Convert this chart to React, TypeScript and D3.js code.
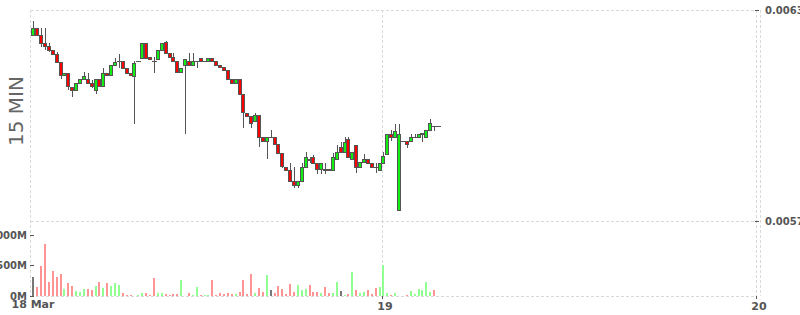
import React from 'react';
import * as d3 from 'd3';

const W = 800;
const H = 315;

// 15-minute candles starting 18 Mar 01:30
const START = new Date(2024, 2, 18, 1, 30);
const STEP_MIN = 15;

const opens = [
  0.0062289, 0.0062480, 0.0062289, 0.0062053, 0.0061976, 0.0061863, 0.0061740, 0.0061530, 0.0061152, 0.0061217,
  0.0060819, 0.0060725, 0.0060916, 0.0061029, 0.0061029, 0.0060916, 0.0060725, 0.0061029, 0.0060839, 0.0061217,
  0.0061143, 0.0061436, 0.0061550, 0.0061550, 0.0061342, 0.0061217, 0.0061123, 0.0061550, 0.0061626, 0.0062053,
  0.0061655, 0.0061550, 0.0061598, 0.0061863, 0.0062099, 0.0061769, 0.0061655, 0.0061550, 0.0061246, 0.0061436,
  0.0061550, 0.0061436, 0.0061550, 0.0061626, 0.0061550, 0.0061550, 0.0061644, 0.0061550, 0.0061436, 0.0061388,
  0.0061294, 0.0061029, 0.0060933, 0.0061029, 0.0060603, 0.0060080, 0.0059986, 0.0059852, 0.0060014, 0.0059397,
  0.0059275, 0.0059380, 0.0059380, 0.0059190, 0.0058942, 0.0058544, 0.0058450, 0.0058137, 0.0058024, 0.0058137,
  0.0058544, 0.0058763, 0.0058811, 0.0058641, 0.0058470, 0.0058479, 0.0058470, 0.0058450, 0.0058755, 0.0059113,
  0.0058954, 0.0059323, 0.0058755, 0.0059161, 0.0058544, 0.0058686, 0.0058755, 0.0058641, 0.0058544, 0.0058450,
  0.0058641, 0.0058897, 0.0059474, 0.0059380, 0.0057313, 0.0059275, 0.0059275, 0.0059275, 0.0059380, 0.0059380,
  0.0059474, 0.0059380, 0.0059588, 0.0059701, 0.0059701,
];

const highs = [
  0.0062687, 0.0062480, 0.0062480, 0.0062480, 0.0062070, 0.0061863, 0.0061814, 0.0061530, 0.0061217, 0.0061217,
  0.0060819, 0.0060916, 0.0061029, 0.0061246, 0.0061217, 0.0061010, 0.0061029, 0.0061029, 0.0061342, 0.0061217,
  0.0061436, 0.0061626, 0.0061749, 0.0061550, 0.0061342, 0.0061217, 0.0061550, 0.0061550, 0.0062053, 0.0062053,
  0.0061655, 0.0061672, 0.0061863, 0.0062070, 0.0062127, 0.0061769, 0.0061769, 0.0061550, 0.0061342, 0.0061598,
  0.0061769, 0.0061786, 0.0061558, 0.0061626, 0.0061558, 0.0061644, 0.0061644, 0.0061550, 0.0061436, 0.0061388,
  0.0061294, 0.0061029, 0.0061029, 0.0061029, 0.0060603, 0.0060080, 0.0059986, 0.0060080, 0.0060014, 0.0059397,
  0.0059380, 0.0059588, 0.0059380, 0.0059190, 0.0058942, 0.0058544, 0.0058658, 0.0058544, 0.0058137, 0.0058641,
  0.0058954, 0.0058811, 0.0058877, 0.0058641, 0.0058658, 0.0058641, 0.0058470, 0.0058925, 0.0059161, 0.0059255,
  0.0059397, 0.0059397, 0.0058954, 0.0059161, 0.0058686, 0.0058897, 0.0058755, 0.0058641, 0.0058641, 0.0058641,
  0.0058954, 0.0059474, 0.0059588, 0.0059758, 0.0059758, 0.0059275, 0.0059275, 0.0059474, 0.0059474, 0.0059474,
  0.0059494, 0.0059588, 0.0059892, 0.0059701, 0.0059701,
];

const lows = [
  0.0062289, 0.0062289, 0.0061948, 0.0061863, 0.0061814, 0.0061720, 0.0061530, 0.0061029, 0.0061152, 0.0060725,
  0.0060518, 0.0060725, 0.0060916, 0.0061029, 0.0060916, 0.0060773, 0.0060611, 0.0060839, 0.0060839, 0.0061143,
  0.0061143, 0.0061436, 0.0061342, 0.0061342, 0.0061217, 0.0061143, 0.0059758, 0.0061550, 0.0061626, 0.0061626,
  0.0061598, 0.0061217, 0.0061598, 0.0061863, 0.0061769, 0.0061672, 0.0061550, 0.0061246, 0.0061246, 0.0059465,
  0.0061436, 0.0061436, 0.0061342, 0.0061550, 0.0061550, 0.0061550, 0.0061550, 0.0061436, 0.0061388, 0.0061294,
  0.0061029, 0.0060933, 0.0060933, 0.0060603, 0.0059645, 0.0059986, 0.0059636, 0.0059852, 0.0059113, 0.0059266,
  0.0058755, 0.0059380, 0.0059190, 0.0058905, 0.0058499, 0.0058450, 0.0058118, 0.0057930, 0.0057930, 0.0058137,
  0.0058544, 0.0058641, 0.0058641, 0.0058328, 0.0058328, 0.0058328, 0.0058442, 0.0058450, 0.0058755, 0.0058954,
  0.0058954, 0.0058828, 0.0058755, 0.0058356, 0.0058544, 0.0058686, 0.0058641, 0.0058544, 0.0058356, 0.0058450,
  0.0058641, 0.0058897, 0.0059283, 0.0059380, 0.0057313, 0.0059275, 0.0059084, 0.0059275, 0.0059380, 0.0059380,
  0.0059255, 0.0059380, 0.0059588, 0.0059568, 0.0059701,
];

const closes = [
  0.0062480, 0.0062289, 0.0062053, 0.0061976, 0.0061863, 0.0061740, 0.0061530, 0.0061152, 0.0061217, 0.0060839,
  0.0060725, 0.0060916, 0.0061029, 0.0061123, 0.0060916, 0.0060839, 0.0061029, 0.0060839, 0.0061217, 0.0061143,
  0.0061436, 0.0061530, 0.0061550, 0.0061342, 0.0061217, 0.0061143, 0.0061501, 0.0061550, 0.0062053, 0.0061626,
  0.0061598, 0.0061550, 0.0061863, 0.0062070, 0.0061769, 0.0061672, 0.0061550, 0.0061246, 0.0061342, 0.0061598,
  0.0061436, 0.0061550, 0.0061558, 0.0061550, 0.0061558, 0.0061644, 0.0061550, 0.0061436, 0.0061388, 0.0061294,
  0.0061029, 0.0060933, 0.0061029, 0.0060603, 0.0060108, 0.0059986, 0.0059778, 0.0060014, 0.0059397, 0.0059266,
  0.0059380, 0.0059380, 0.0059190, 0.0058942, 0.0058564, 0.0058450, 0.0058137, 0.0058024, 0.0058137, 0.0058544,
  0.0058811, 0.0058735, 0.0058641, 0.0058470, 0.0058658, 0.0058450, 0.0058442, 0.0058828, 0.0058954, 0.0058954,
  0.0059255, 0.0058828, 0.0058954, 0.0058544, 0.0058686, 0.0058755, 0.0058641, 0.0058544, 0.0058527, 0.0058641,
  0.0058848, 0.0059474, 0.0059380, 0.0059568, 0.0059474, 0.0059275, 0.0059181, 0.0059380, 0.0059397, 0.0059474,
  0.0059494, 0.0059588, 0.0059778, 0.0059701, 0.0059701,
];

// volume in millions
const volumes = [
  315, 152, 489, 847, 228, 407, 310, 358, 114, 212,
  163, 81, 71, 114, 114, 103, 163, 228, 130, 212,
  163, 212, 179, 49, 16, 16, 5, 16, 49, 49,
  16, 293, 49, 49, 33, 16, 33, 33, 261, 3,
  49, 16, 147, 16, 16, 16, 261, 16, 49, 33,
  49, 33, 33, 65, 261, 33, 358, 49, 130, 68,
  342, 98, 52, 165, 120, 33, 195, 68, 179, 100,
  114, 179, 65, 65, 52, 147, 49, 49, 228, 81,
  12, 33, 391, 100, 52, 62, 100, 33, 133, 150,
  505, 46, 22, 49, 5, 2, 16, 81, 33, 114,
  98, 228, 65, 98, 5,
];

const priceTicks = [0.0057, 0.0063];
const volumeTicks = [0, 500, 1000];
const dateTicks = [new Date(2024, 2, 19), new Date(2024, 2, 20)];
const dateTickLabels = ['19', '20'];
const firstDateLabel = '18 Mar';
const panelLabel = '15 MIN';

const GRID = '#d9d9d9';
const AXIS = '#555';
const TXT = '#555';

export default function App() {
  const x = d3
    .scaleTime()
    .domain([new Date(2024, 2, 18, 1, 21), new Date(2024, 2, 20, 0, 0)])
    .range([31, 757]);
  const yP = d3.scaleLinear().domain([0.0057, 0.0063]).range([221, 10]);
  const yV = d3.scaleLinear().domain([0, 1221]).range([296, 221]);

  const times = opens.map((_, i) => d3.timeMinute.offset(START, i * STEP_MIN));
  const left = 31;
  const right = 757;
  const border = 760;

  const candles = opens.map((o, i) => {
    const c = closes[i];
    const px = Math.round(x(times[i]));
    const hi = Math.round(yP(highs[i]));
    const lo = Math.round(yP(lows[i]));
    const top = Math.round(yP(Math.max(o, c)));
    const bot = Math.round(yP(Math.min(o, c)));
    const fill = c > o ? '#11ee11' : c < o ? '#ff0000' : '#555';
    return (
      <g key={'c' + i}>
        {lo > hi && <line x1={px + 0.5} x2={px + 0.5} y1={hi} y2={lo} stroke={AXIS} strokeWidth={1} />}
        {bot - top >= 1 ? (
          <rect x={px - 1.5} y={top + 0.5} width={3} height={bot - top} fill={fill} stroke={AXIS} strokeWidth={1} />
        ) : (
          <line x1={px - 2} x2={px + 3} y1={top + 0.5} y2={top + 0.5} stroke={AXIS} strokeWidth={1} />
        )}
      </g>
    );
  });

  const vbars = volumes.map((v, i) => {
    const px = Math.round(x(times[i]));
    let col = '#777';
    if (i > 0) {
      if (closes[i] > closes[i - 1]) col = '#92ff92';
      else if (closes[i] < closes[i - 1]) col = '#ff9494';
    }
    const yt = yV(v);
    return <rect key={'v' + i} x={px - 1} y={yt} width={2} height={Math.max(0, yV(0) - yt)} fill={col} />;
  });

  const font = "'DejaVu Sans', Verdana, sans-serif";

  return (
    <div style={{ position: 'fixed', left: 0, top: 0, width: W, height: H, background: '#fff' }}>
      <svg width={W} height={H} style={{ display: 'block' }} shapeRendering="crispEdges">
        {/* grid */}
        {priceTicks.map((t) => (
          <line key={'pg' + t} x1={left} x2={right} y1={Math.round(yP(t)) + 0.5} y2={Math.round(yP(t)) + 0.5} stroke={GRID} strokeDasharray="3,2" />
        ))}
        <line x1={left} x2={right} y1={Math.round(yV(0)) + 0.5} y2={Math.round(yV(0)) + 0.5} stroke={GRID} strokeDasharray="3,2" />
        <line x1={left - 0.5} x2={left - 0.5} y1={10} y2={296} stroke={GRID} strokeDasharray="3,2" />
        {dateTicks.map((d) => (
          <line key={'dg' + d.getTime()} x1={Math.round(x(d)) - 0.5} x2={Math.round(x(d)) - 0.5} y1={10} y2={296} stroke={GRID} strokeDasharray="3,2" />
        ))}
        <line x1={border + 0.5} x2={border + 0.5} y1={10} y2={296} stroke={GRID} strokeDasharray="3,2" />

        {/* volume */}
        {vbars}

        {/* candles */}
        {candles}

        {/* price axis */}
        {priceTicks.map((t) => {
          const yy = Math.round(yP(t)) + 0.5;
          return (
            <g key={'pt' + t}>
              <line x1={755} x2={759} y1={yy} y2={yy} stroke={AXIS} />
              <text x={765} y={yy + 3.5} fontSize={10} fontWeight="bold" fill={TXT} fontFamily={font} shapeRendering="auto">
                {t.toFixed(4)}
              </text>
            </g>
          );
        })}

        {/* volume axis */}
        {volumeTicks.map((t) => {
          const yy = Math.round(yV(t)) + 0.5;
          return (
            <g key={'vt' + t}>
              <line x1={30} x2={34} y1={yy} y2={yy} stroke={AXIS} />
              <text x={27} y={yy + 3.5} fontSize={10} fontWeight="bold" fill={TXT} fontFamily={font} textAnchor="end">
                {t + 'M'}
              </text>
            </g>
          );
        })}

        {/* time axis */}
        {dateTicks.map((d, i) => {
          const xx = Math.round(x(d)) - 0.5;
          return (
            <g key={'dt' + i}>
              <line x1={xx} x2={xx} y1={296} y2={299} stroke={AXIS} />
              <text x={xx + 2.5} y={310} fontSize={11} fontWeight="bold" fill={TXT} fontFamily={font} textAnchor="middle">
                {dateTickLabels[i]}
              </text>
            </g>
          );
        })}
        <text x={33} y={308} fontSize={11} fontWeight="bold" fill={TXT} fontFamily={font} textAnchor="middle">
          {firstDateLabel}
        </text>

        {/* panel label */}
        <text
          transform="translate(16,111) rotate(-90)"
          fontSize={20}
          fill="#666"
          fontFamily={font}
          textAnchor="middle"
          dominantBaseline="central"
        >
          {panelLabel}
        </text>
      </svg>
    </div>
  );
}
